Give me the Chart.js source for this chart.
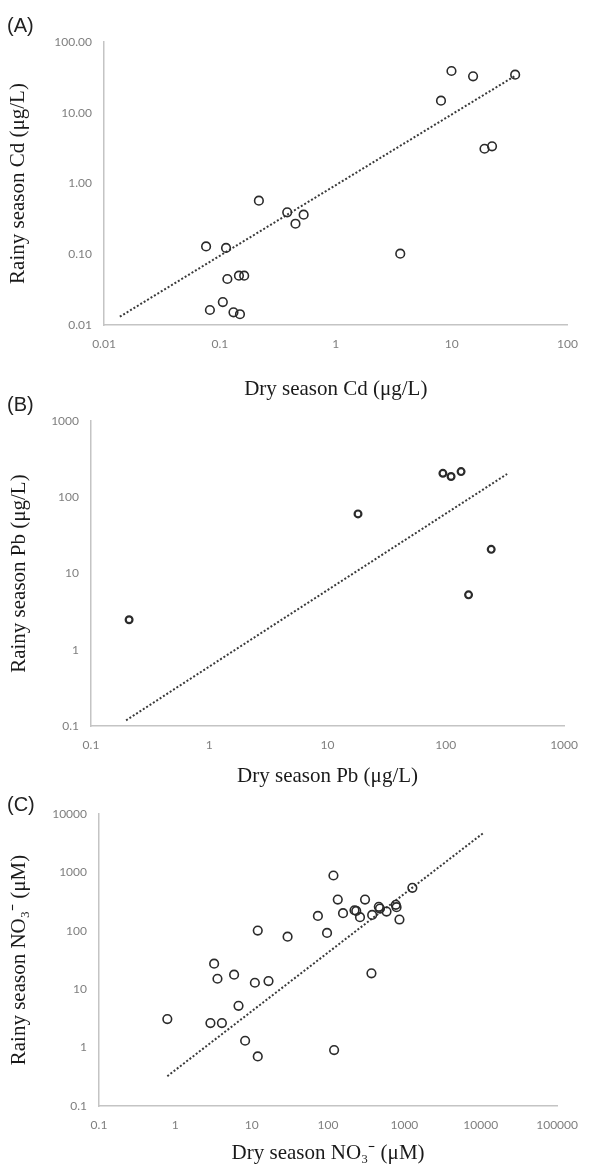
<!DOCTYPE html>
<html>
<head>
<meta charset="utf-8">
<script src="https://cdn.jsdelivr.net/npm/chart.js@4.4.1/dist/chart.umd.min.js"></script>
<style>
  html, body { margin: 0; padding: 0; background: #fff; }
  body { width: 590px; height: 1166px; position: relative; overflow: hidden; }
  canvas { position: absolute; left: 0; }
  .tag { position: absolute; left: 7px; font: 20px "Liberation Sans", Arial, sans-serif; color: #222; line-height: 20px; }
</style>
</head>
<body>
<canvas id="chartA" width="590" height="402" style="top:0px"></canvas>
<canvas id="chartB" width="590" height="388" style="top:402px"></canvas>
<canvas id="chartC" width="590" height="376" style="top:790px"></canvas>
<div class="tag" style="top:15px">(A)</div>
<div class="tag" style="top:394px">(B)</div>
<div class="tag" style="top:794px">(C)</div>
<script>
// (A) Cd
var cdDry   = [9.96, 15.3, 35.3, 8.09, 19.2, 22.3, 0.217, 0.381, 0.528, 0.449, 0.076, 0.113, 3.6, 0.116, 0.146, 0.162, 0.106, 0.082, 0.131, 0.149];
var cdRainy = [38.9, 32.7, 34.5, 14.8, 3.1, 3.35, 0.571, 0.392, 0.362, 0.270, 0.129, 0.123, 0.102, 0.0447, 0.0498, 0.0498, 0.0211, 0.0163, 0.0151, 0.0142];
var cdTrendX = [0.0137, 35];
var cdTrendY = [0.0131, 33];
var cdXTicks = [0.01, 0.1, 1, 10, 100];
var cdXLabels = ['0.01', '0.1', '1', '10', '100'];
var cdYTicks = [0.01, 0.1, 1, 10, 100];
var cdYLabels = ['0.01', '0.10', '1.00', '10.00', '100.00'];

// (B) Pb
var pbDry   = [18.1, 94.5, 110.8, 134.6, 242, 155.7, 0.21];
var pbRainy = [60.7, 207, 188, 218, 20.8, 5.26, 2.48];
var pbTrendX = [0.198, 330];
var pbTrendY = [0.1186, 203];
var pbXTicks = [0.1, 1, 10, 100, 1000];
var pbXLabels = ['0.1', '1', '10', '100', '1000'];
var pbYTicks = [0.1, 1, 10, 100, 1000];
var pbYLabels = ['0.1', '1', '10', '100', '1000'];

// (C) NO3-
var noDry   = [117.6, 134, 305, 1271, 73.6, 157, 222, 234, 262, 378, 462, 478, 583, 771, 789, 861, 97, 12, 29.5, 3.22, 3.56, 5.88, 11, 16.6, 370, 6.72, 0.785, 2.88, 4.07, 8.2, 12, 120];
var noRainy = [885, 343, 343, 545, 180, 200, 225, 219, 171, 187, 257, 240, 213, 278, 254, 156, 92, 101, 79.4, 27.4, 15.1, 17.7, 12.9, 13.8, 18.7, 5.2, 3.08, 2.63, 2.63, 1.31, 0.706, 0.906];
var noTrendX = [0.785, 10790];
var noTrendY = [0.324, 4720];
var noXTicks = [0.1, 1, 10, 100, 1000, 10000, 100000];
var noXLabels = ['0.1', '1', '10', '100', '1000', '10000', '100000'];
var noYTicks = [0.1, 1, 10, 100, 1000, 10000];
var noYLabels = ['0.1', '1', '10', '100', '1000', '10000'];

function pts(xs, ys) {
  return xs.map(function (x, i) { return { x: x, y: ys[i] }; });
}

function logAxis(ticks, labels, title, size, titlePad) {
  return {
    type: 'logarithmic',
    min: ticks[0],
    max: ticks[ticks.length - 1],
    afterBuildTicks: function (scale) {
      scale.ticks = ticks.map(function (v) { return { value: v }; });
    },
    afterFit: function (scale) {
      if (scale.isHorizontal()) scale.height = size; else scale.width = size;
    },
    grid: { display: false, drawTicks: false },
    border: { display: true, color: '#c4c4c4', width: 1.5 },
    ticks: {
      autoSkip: false,
      maxRotation: 0,
      padding: 12,
      color: '#7f7f7f',
      font: { family: 'Lato', size: 12 },
      callback: function (v, i) { return labels[i]; }
    },
    title: {
      display: true,
      text: title,
      color: '#1a1a1a',
      font: { family: '"Liberation Serif", "Times New Roman", serif', size: 21 },
      padding: titlePad
    }
  };
}

function makeChart(id, xs, ys, tx, ty, opt) {
  new Chart(document.getElementById(id).getContext('2d'), {
    type: 'scatter',
    data: {
      datasets: [{
        data: pts(xs, ys),
        pointStyle: 'circle',
        pointRadius: opt.r,
        pointBorderWidth: opt.bw,
        borderColor: '#2b2b2b',
        backgroundColor: 'rgba(0,0,0,0)'
      }, {
        data: pts(tx, ty),
        showLine: true,
        pointRadius: 0,
        borderColor: '#3a3a3a',
        borderWidth: 2,
        borderDash: [2, 2]
      }]
    },
    options: {
      responsive: false,
      animation: false,
      devicePixelRatio: 1,
      layout: { padding: opt.pad },
      plugins: { legend: { display: false }, tooltip: { enabled: false } },
      scales: {
        x: logAxis(opt.xt, opt.xl, opt.xTitle, opt.xh, { top: 0, bottom: opt.xtp }),
        y: logAxis(opt.yt, opt.yl, opt.yTitle, opt.yw, { top: opt.ytp, bottom: 0 })
      }
    }
  });
}

makeChart('chartA', cdDry, cdRainy, cdTrendX, cdTrendY, {
  r: 4.3, bw: 1.6,
  pad: { left: 0, right: 20, top: 42, bottom: 0 },
  xt: cdXTicks, xl: cdXLabels, xTitle: 'Dry season Cd (μg/L)', xh: 77, xtp: 0,
  yt: cdYTicks, yl: cdYLabels, yTitle: 'Rainy season Cd (μg/L)', yw: 104, ytp: 6
});

makeChart('chartB', pbDry, pbRainy, pbTrendX, pbTrendY, {
  r: 3.4, bw: 2.2,
  pad: { left: 0, right: 22, top: 14, bottom: 0 },
  xt: pbXTicks, xl: pbXLabels, xTitle: 'Dry season Pb (μg/L)', xh: 64, xtp: 1,
  yt: pbYTicks, yl: pbYLabels, yTitle: 'Rainy season Pb (μg/L)', yw: 91, ytp: 7
});

makeChart('chartC', noDry, noRainy, noTrendX, noTrendY, {
  r: 4.3, bw: 1.6,
  pad: { left: 0, right: 24, top: 24, bottom: 0 },
  xt: noXTicks, xl: noXLabels, xTitle: 'Dry season NO₃⁻ (μM)', xh: 60, xtp: 0,
  yt: noYTicks, yl: noYLabels, yTitle: 'Rainy season NO₃⁻ (μM)', yw: 99, ytp: 7
});
</script>
</body>
</html>
